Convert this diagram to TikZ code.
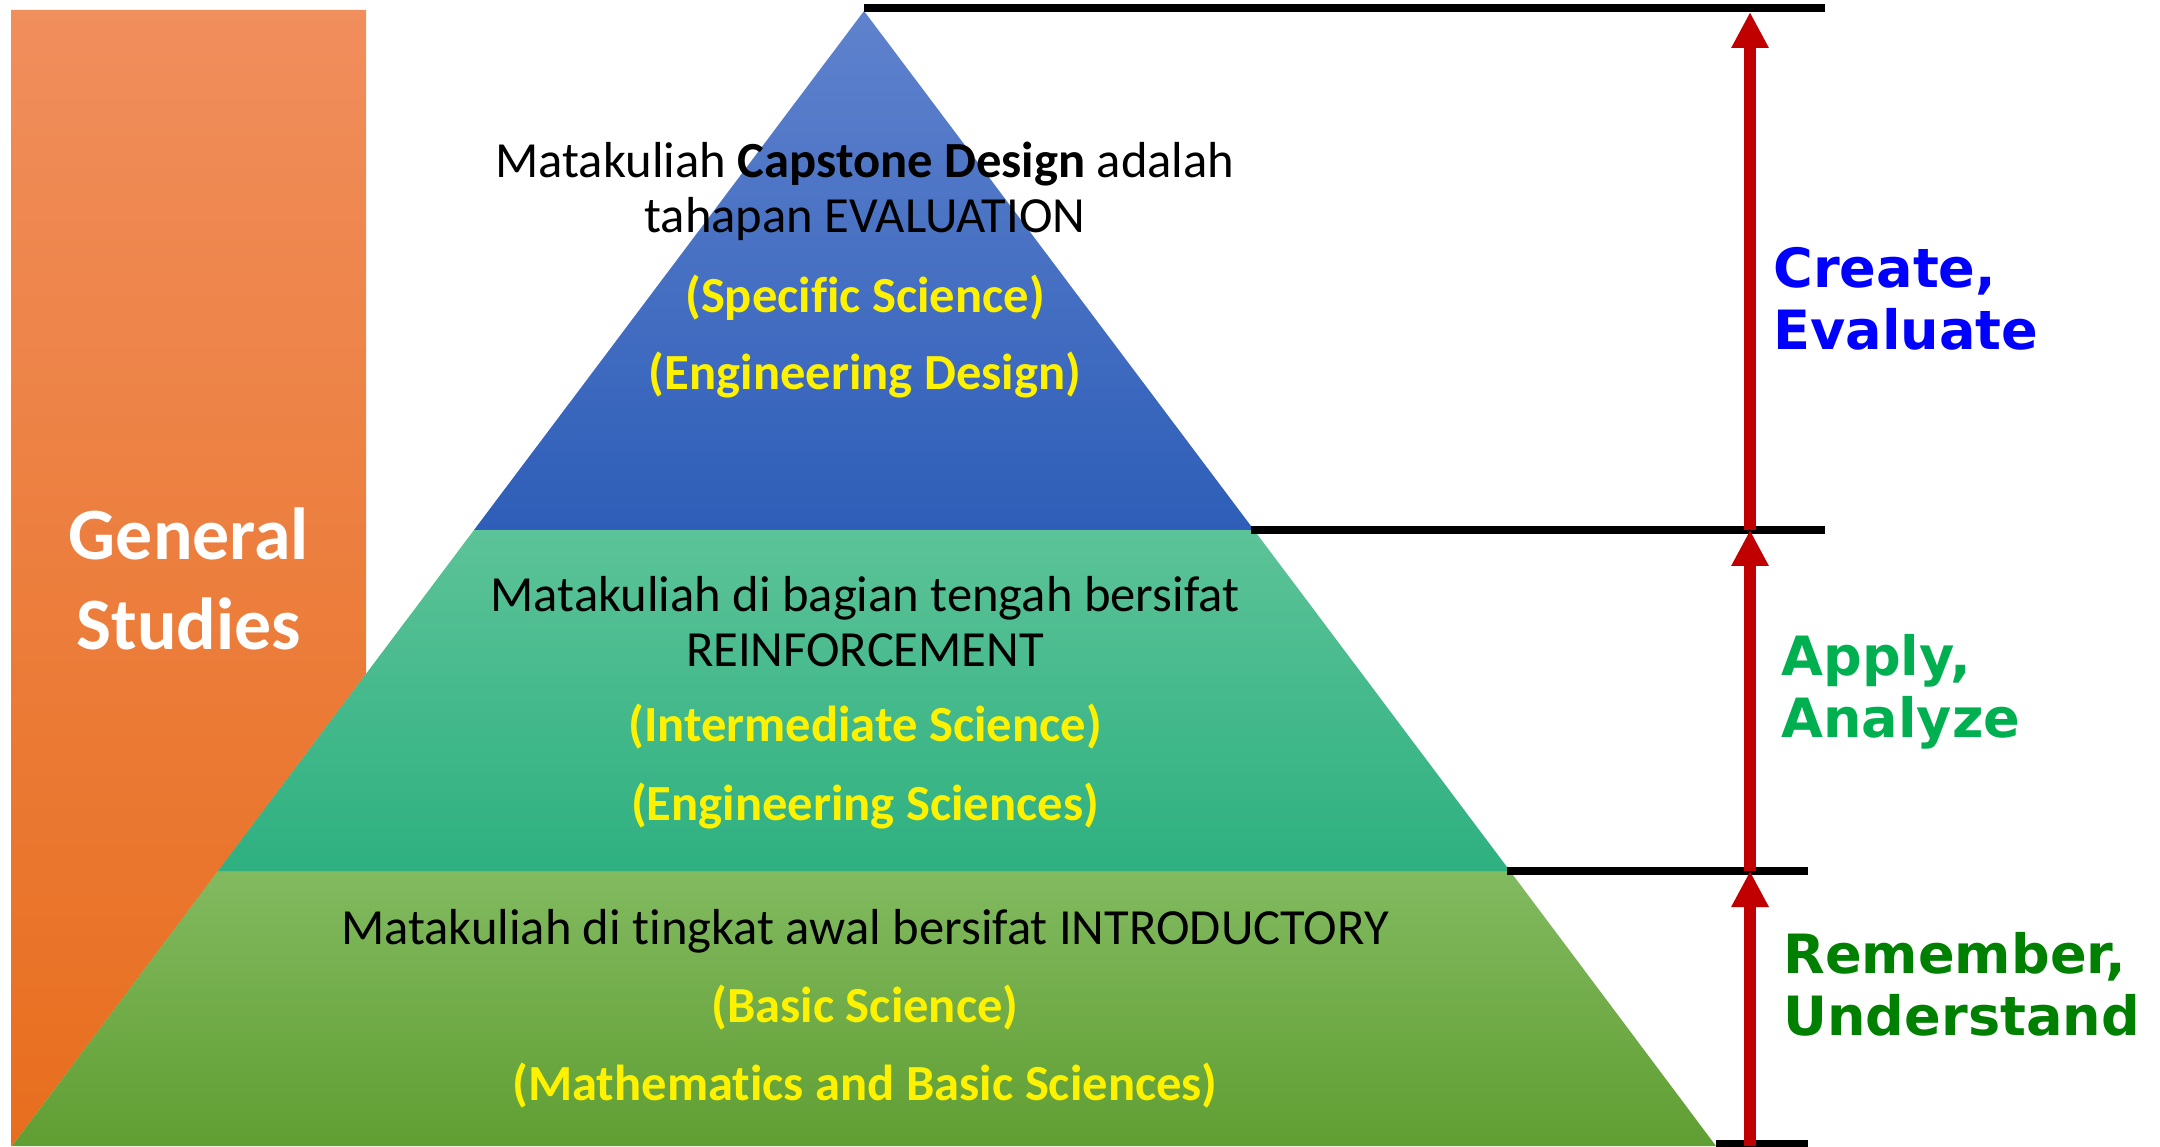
\documentclass[tikz,border=0pt]{standalone}
\usepackage{fontspec}
\setmainfont{Carlito}[Ligatures=NoCommon]
\newfontfamily\bloomfont{DejaVu Sans}
\usetikzlibrary{arrows.meta}

\definecolor{orangeTop}{RGB}{240,142,92}
\definecolor{orangeBot}{RGB}{232,110,30}
\definecolor{blueTop}{RGB}{95,130,205}
\definecolor{blueBot}{RGB}{46,94,184}
\definecolor{midTop}{RGB}{92,195,152}
\definecolor{midBot}{RGB}{46,176,128}
\definecolor{lowTop}{RGB}{130,186,96}
\definecolor{lowBot}{RGB}{96,158,50}
\definecolor{arrowRed}{RGB}{192,0,0}
\definecolor{applyGreen}{RGB}{0,176,80}
\definecolor{rememberGreen}{RGB}{0,128,0}

\begin{document}
\begin{tikzpicture}[
        course/.style={font=\fontsize{14.4}{15.6}\selectfont, align=center},
        science/.style={font=\fontsize{14.4}{15.6}\selectfont\bfseries, text=yellow},
        bloom/.style={font=\bloomfont\fontsize{15.4}{17.7}\selectfont\bfseries, align=left, anchor=west},
        level/.style={black, line width=0.08cm},
        climb/.style={arrowRed, line width=0.12cm, -{Triangle[width=3.5mm,length=3.6mm]}}
    ]
        \useasboundingbox (0, 0) rectangle (21.6, 11.46);

        \shade[top color=orangeTop, bottom color=orangeBot] (0.11, 11.36) -- (3.66, 11.36) -- (3.66, 4.72) -- (0.12, 0) -- (0.11, 0) -- cycle;
        \node[font=\fontsize{21}{25.6}\selectfont\bfseries, text=white, align=center] (general) at (1.89, 5.67) {General\\Studies};

        \shade[top color=lowTop, bottom color=lowBot] (0.12, 0) -- (17.16, 0) -- (15.10, 2.75) -- (2.18, 2.75) -- cycle;
        \shade[top color=midTop, bottom color=midBot] (2.18, 2.75) -- (15.10, 2.75) -- (12.54, 6.16) -- (4.74, 6.16) -- cycle;
        \shade[top color=blueTop, bottom color=blueBot] (4.74, 6.16) -- (12.54, 6.16) -- (8.64, 11.35) -- cycle;

        \node[course] (capstone) at (8.65, 9.55) {Matakuliah \textbf{Capstone Design} adalah\\tahapan EVALUATION};
        \node[science] (specific) at (8.65, 8.48) {(Specific Science)};
        \node[science] (engdesign) at (8.65, 7.71) {(Engineering Design)};

        \node[course] (reinforce) at (8.65, 5.24) {Matakuliah di bagian tengah bersifat\\REINFORCEMENT};
        \node[science] (intermediate) at (8.65, 4.19) {(Intermediate Science)};
        \node[science] (engsciences) at (8.65, 3.40) {(Engineering Sciences)};

        \node[course] (intro) at (8.65, 2.15) {Matakuliah di tingkat awal bersifat INTRODUCTORY};
        \node[science] (basic) at (8.65, 1.38) {(Basic Science)};
        \node[science] (mathsci) at (8.65, 0.60) {(Mathematics and Basic Sciences)};

        \draw[level] (8.64, 11.38) -- (18.25, 11.38);
        \draw[level] (12.51, 6.16) -- (18.25, 6.16);
        \draw[level] (15.07, 2.75) -- (18.08, 2.75);
        \draw[level] (17.16, 0.02) -- (18.08, 0.02);

        \coordinate (t0) at (17.50, 0);
        \coordinate (t1) at (17.50, 2.75);
        \coordinate (t2) at (17.50, 6.16);
        \coordinate (t3) at (17.50, 11.34);
        \draw[climb] (t0) -- (t1);
        \draw[climb] (t1) -- (t2);
        \draw[climb] (t2) -- (t3);

        \node[bloom, text=blue] (create) at (17.61, 8.47) {Create,\\Evaluate};
        \node[bloom, text=applyGreen] (apply) at (17.69, 4.54) {Apply,\\Analyze};
        \node[bloom, text=rememberGreen] (remember) at (17.71, 1.62) {Remember,\\Understand};

        \end{tikzpicture}
\end{document}
